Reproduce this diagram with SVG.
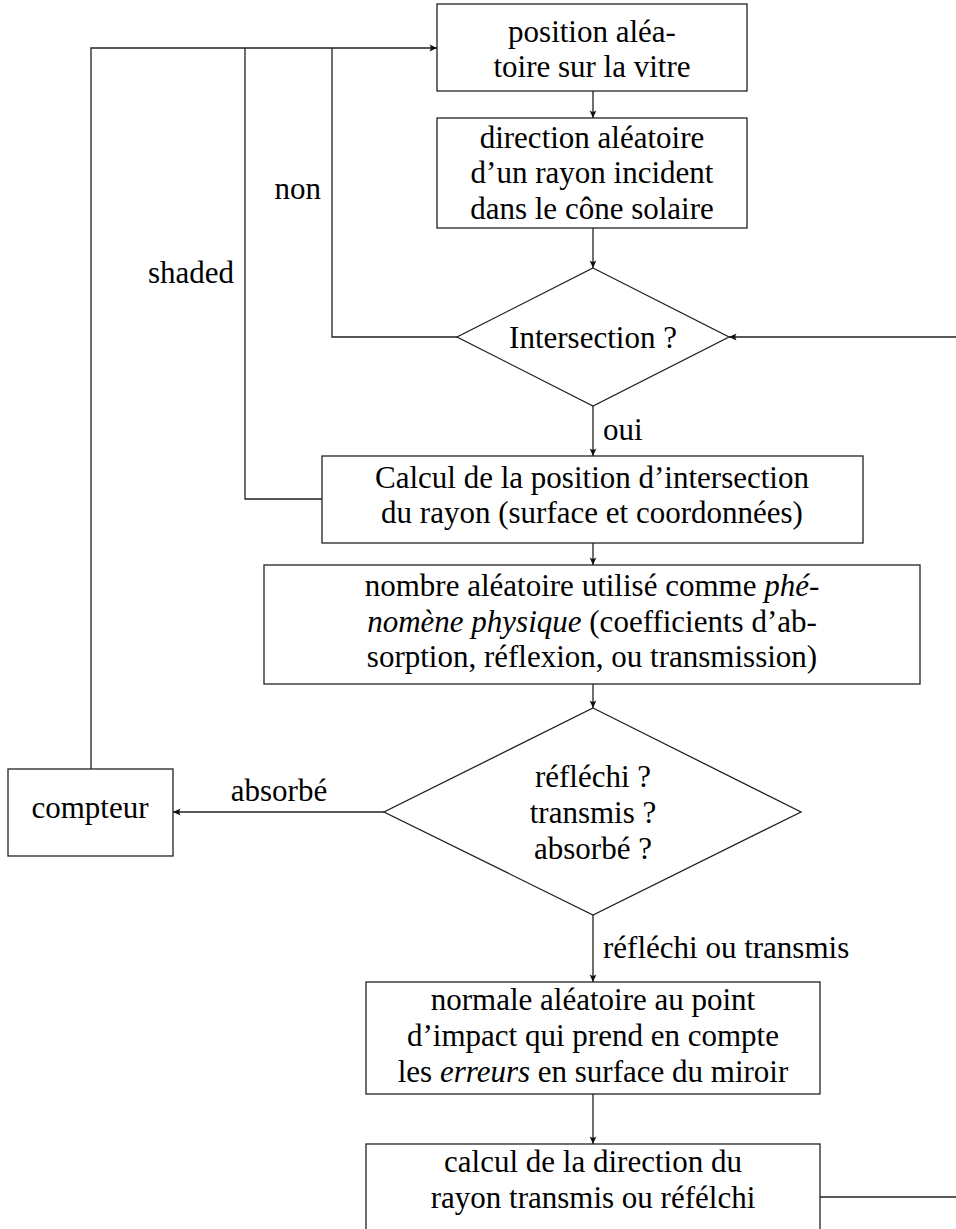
<svg xmlns="http://www.w3.org/2000/svg" width="956" height="1229" viewBox="0 0 956 1229">
<style>
.box{fill:#fff;stroke:#222;stroke-width:1.3}
.ln{fill:none;stroke:#222;stroke-width:1.3}
.arr{fill:none;stroke:#222;stroke-width:1.3;marker-end:url(#ah)}
text{font-family:"Liberation Serif","Times New Roman",serif;font-size:31px;fill:#000}
.c{text-anchor:middle}
.r{text-anchor:end}
.i{font-style:italic}
</style>
<defs>
<marker id="ah" viewBox="-8 -4 9 8" refX="0" refY="0" markerWidth="9" markerHeight="8" markerUnits="userSpaceOnUse" orient="auto">
<path d="M0,0 L-7.5,-3.4 Q-5,0 -7.5,3.4 Z" fill="#111"/>
</marker>
</defs>
<rect width="956" height="1229" fill="#fff"/>
<g id="connectors">
<line class="arr" x1="593" y1="91" x2="593" y2="118"/>
<line class="arr" x1="593" y1="228" x2="593" y2="268"/>
<line class="arr" x1="593" y1="406" x2="593" y2="456"/>
<line class="arr" x1="593" y1="543" x2="593" y2="565"/>
<line class="arr" x1="593" y1="684" x2="593" y2="708"/>
<line class="arr" x1="593" y1="915" x2="593" y2="982"/>
<line class="arr" x1="593" y1="1094" x2="593" y2="1144"/>
<line class="arr" x1="384" y1="812" x2="173" y2="812"/>
<polyline class="arr" points="91,769 91,48 437,48"/>
<polyline class="ln" points="322,499 245,499 245,48"/>
<polyline class="ln" points="457,337 332,337 332,48"/>
<line class="arr" x1="956" y1="337" x2="729" y2="337"/>
<line class="ln" x1="820" y1="1197" x2="956" y2="1197"/>
<text class="r" x="321" y="199">non</text>
<text class="r" x="234" y="283">shaded</text>
<text x="603" y="440">oui</text>
<text x="603" y="958">réfléchi ou transmis</text>
<text class="c" x="279" y="801">absorbé</text>
</g>
<g id="n1">
<rect class="box" x="437" y="4" width="310" height="87"/>
<text class="c" x="592" y="42">position aléa-</text>
<text class="c" x="592" y="77">toire sur la vitre</text>
</g>
<g id="n2">
<rect class="box" x="437" y="118" width="310" height="110"/>
<text class="c" x="592" y="148">direction aléatoire</text>
<text class="c" x="592" y="183">d’un rayon incident</text>
<text class="c" x="592" y="219">dans le cône solaire</text>
</g>
<g id="n3">
<polygon class="box" points="593,268 729,337 593,406 457,337"/>
<text class="c" x="593" y="348">Intersection ?</text>
</g>
<g id="n4">
<rect class="box" x="322" y="456" width="541" height="87"/>
<text class="c" x="592" y="488">Calcul de la position d’intersection</text>
<text class="c" x="592" y="523">du rayon (surface et coordonnées)</text>
</g>
<g id="n5">
<rect class="box" x="264" y="565" width="656" height="119"/>
<text class="c" x="592" y="596">nombre aléatoire utilisé comme <tspan class="i">phé-</tspan></text>
<text class="c" x="592" y="632"><tspan class="i">nomène physique</tspan> (coefficients d’ab-</text>
<text class="c" x="592" y="667">sorption, réflexion, ou transmission)</text>
</g>
<g id="n6">
<polygon class="box" points="593,708 801,812 593,915 384,812"/>
<text class="c" x="593" y="787">réfléchi ?</text>
<text class="c" x="593" y="823">transmis ?</text>
<text class="c" x="593" y="859">absorbé ?</text>
</g>
<g id="n7">
<rect class="box" x="8" y="769" width="165" height="87"/>
<text class="c" x="90" y="818">compteur</text>
</g>
<g id="n8">
<rect class="box" x="366" y="982" width="454" height="112"/>
<text class="c" x="593" y="1010">normale aléatoire au point</text>
<text class="c" x="593" y="1046">d’impact qui prend en compte</text>
<text class="c" x="593" y="1082">les <tspan class="i">erreurs</tspan> en surface du miroir</text>
</g>
<g id="n9">
<rect class="box" x="366" y="1144" width="454" height="100"/>
<text class="c" x="593" y="1172">calcul de la direction du</text>
<text class="c" x="593" y="1208">rayon transmis ou réfélchi</text>
</g>
</svg>
